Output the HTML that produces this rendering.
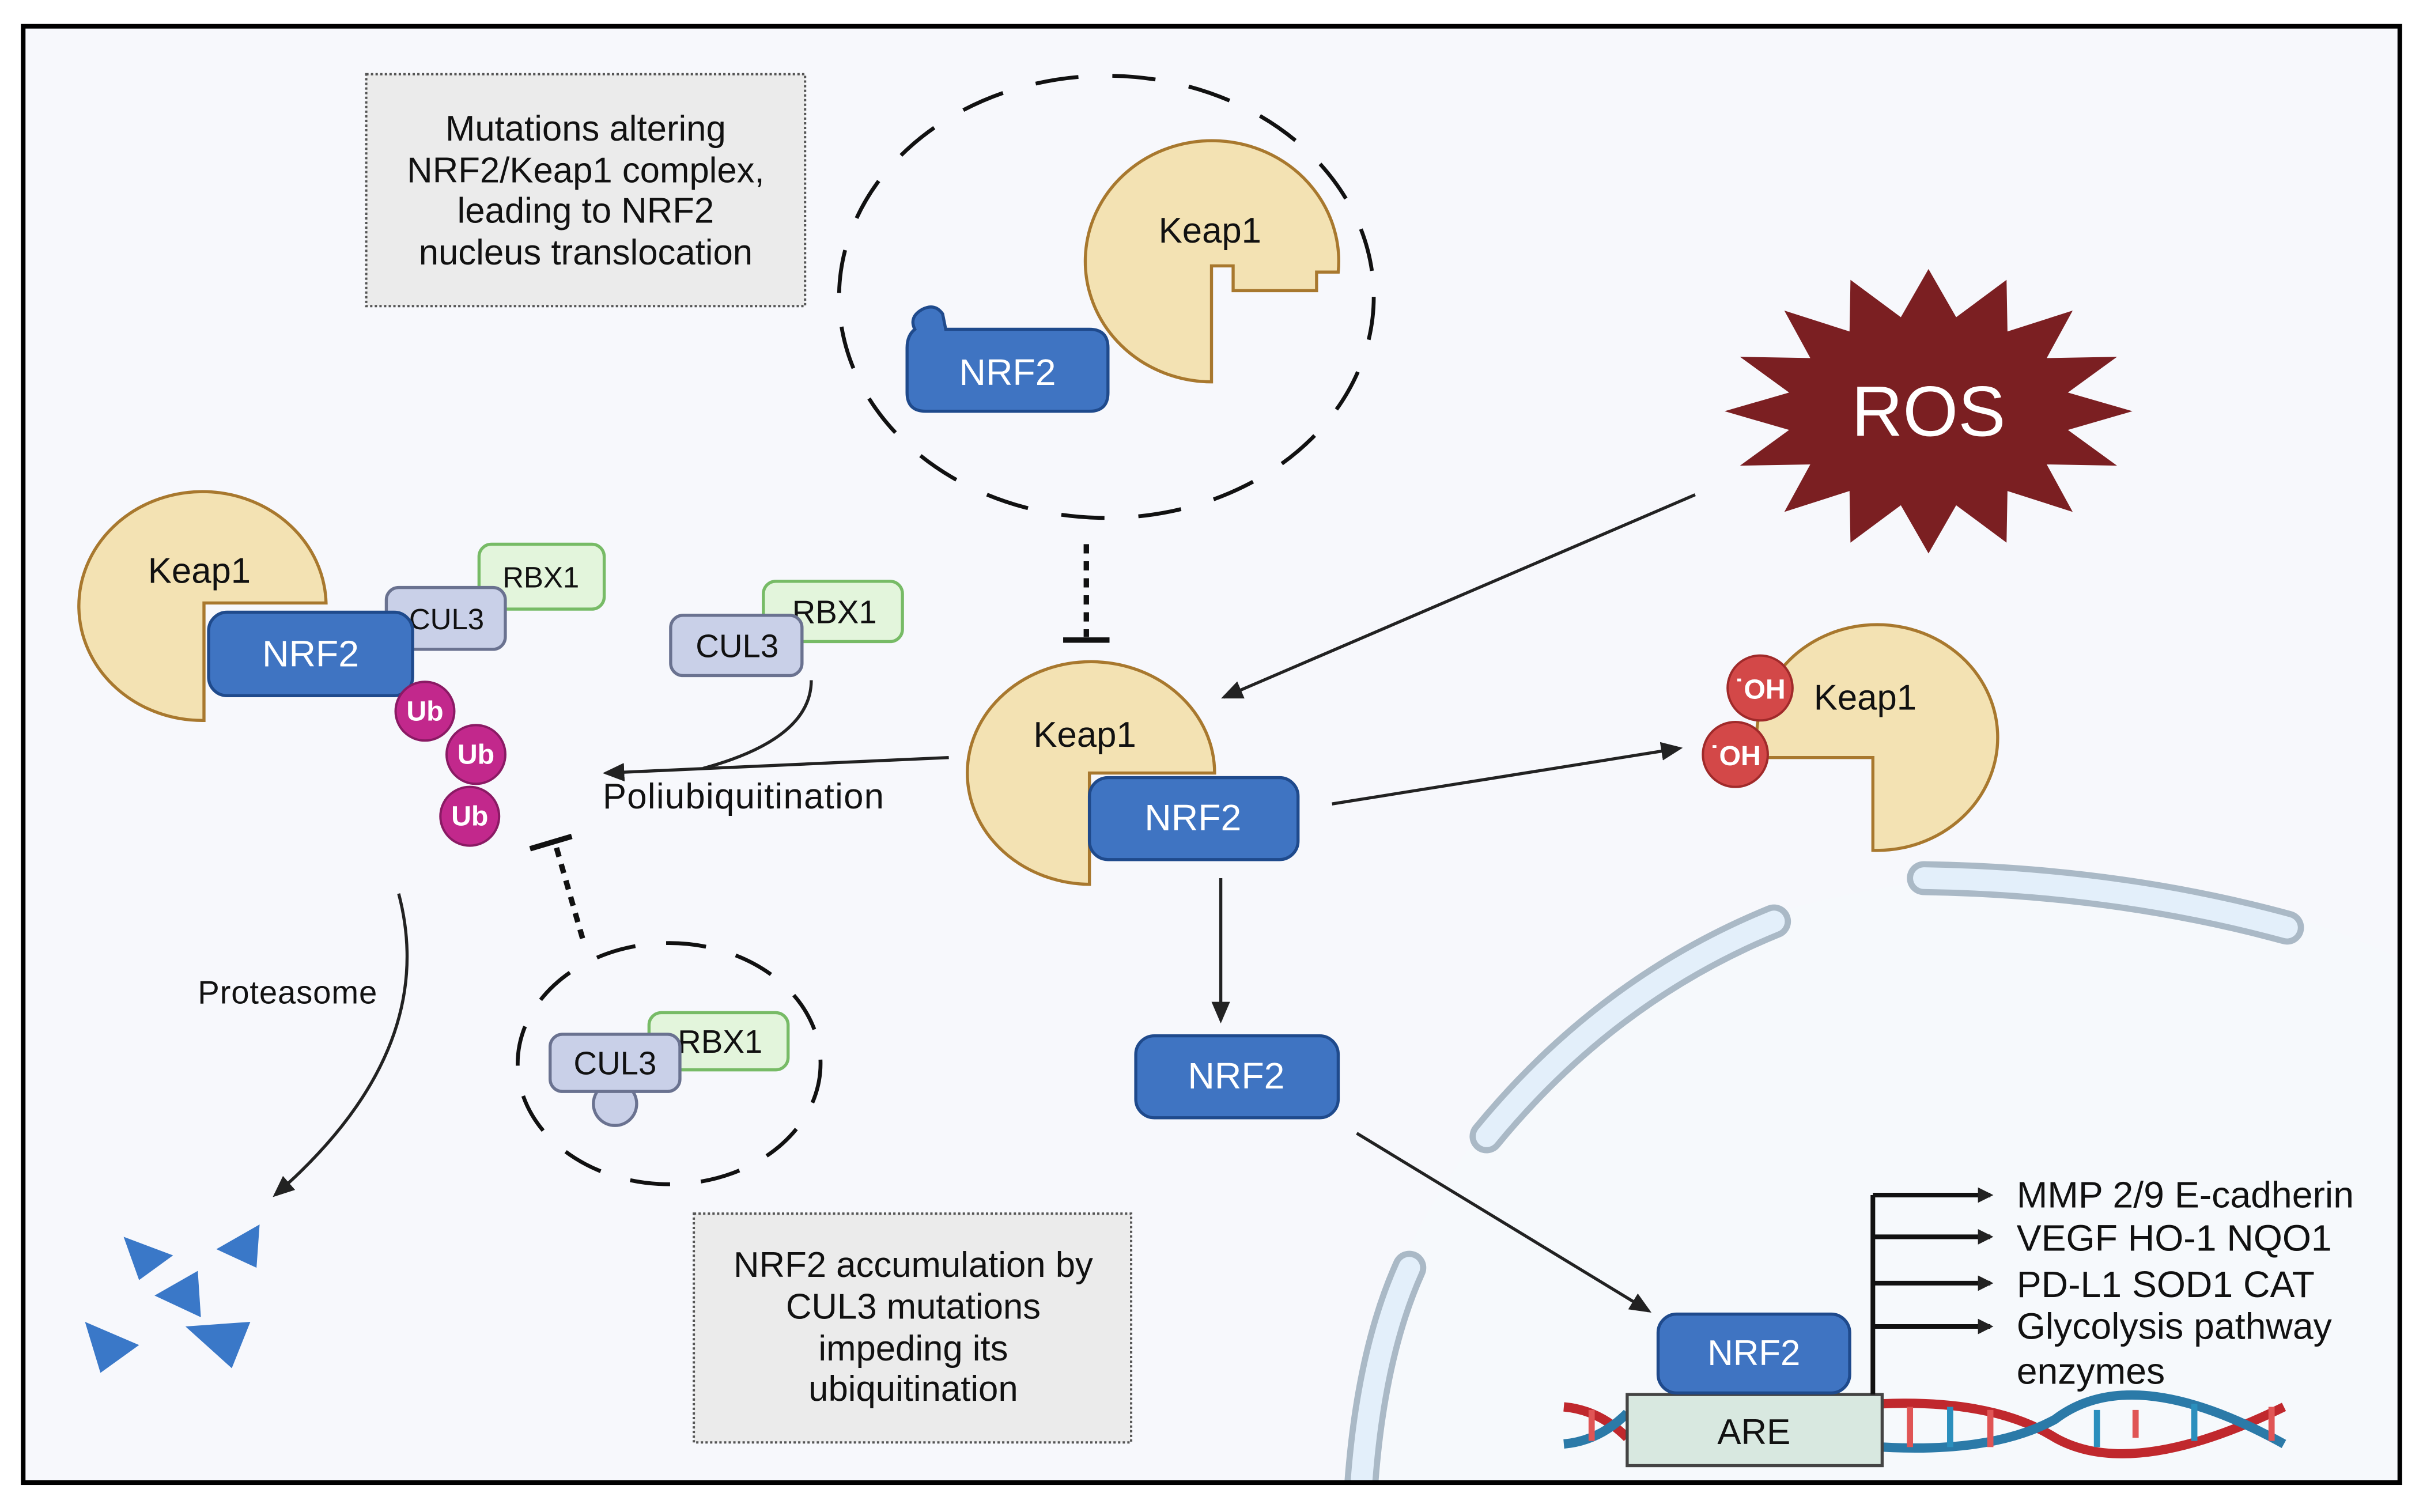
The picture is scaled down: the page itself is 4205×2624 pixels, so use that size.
<!DOCTYPE html>
<html><head><meta charset="utf-8">
<style>
html,body{margin:0;padding:0;background:#fff;}
svg{display:block;}
text{font-family:"Liberation Sans",sans-serif;}
</style></head>
<body>
<svg width="4205" height="2624" viewBox="0 0 1568 978" preserveAspectRatio="none" xmlns="http://www.w3.org/2000/svg">
<defs>
<marker id="ah" markerWidth="10" markerHeight="10" refX="8" refY="5" orient="auto" markerUnits="userSpaceOnUse" viewBox="0 0 10 10">
<path d="M0,0 L10,5 L0,10 z" fill="#222"/></marker>
<marker id="ah2" markerWidth="14" markerHeight="14" refX="12" refY="7" orient="auto" markerUnits="userSpaceOnUse" viewBox="0 0 14 14">
<path d="M0,1 L14,7 L0,13 z" fill="#222"/></marker>
<clipPath id="inner"><rect x="16.5" y="18.5" width="1535" height="939"/></clipPath>
</defs>
<rect x="0" y="0" width="1568" height="978" fill="#fff"/>
<rect x="15" y="17" width="1538" height="942" fill="#f7f8fc"/>

<g clip-path="url(#inner)">
<path d="M870,958 Q900,700 1150,590 Q1360,530 1553,620 L1553,960 Z" fill="#f6f9fc"/>
<g stroke-linecap="round" fill="none">
<path d="M962,735 Q1040,640 1148,596" stroke="#aab9c6" stroke-width="22"/>
<path d="M962,735 Q1040,640 1148,596" stroke="#e3effa" stroke-width="14"/>
<path d="M1245,568 Q1370,570 1480,600" stroke="#aab9c6" stroke-width="22"/>
<path d="M1245,568 Q1370,570 1480,600" stroke="#e3effa" stroke-width="14"/>
<path d="M912,820 Q885,880 880,975" stroke="#aab9c6" stroke-width="22"/>
<path d="M912,820 Q885,880 880,975" stroke="#e3effa" stroke-width="14"/>
</g>
</g>
<rect x="15" y="17" width="1538" height="942" fill="none" stroke="#000" stroke-width="3"/>

<rect x="237" y="48" width="284" height="150" fill="#ebebeb" stroke="#555" stroke-width="1.5" stroke-dasharray="1.5,1.5"/>
<g font-size="23" text-anchor="middle" fill="#111">
<text x="379" y="91">Mutations altering</text>
<text x="379" y="118">NRF2/Keap1 complex,</text>
<text x="379" y="144">leading to NRF2</text>
<text x="379" y="171">nucleus translocation</text>
</g>

<ellipse cx="716" cy="192" rx="173" ry="143" fill="none" stroke="#111" stroke-width="2.5" stroke-dasharray="28,22"/>
<path d="M784,247 A82,78 0 1 1 866,176 L852,176 L852,188 L798,188 L798,172 L784,172 Z" fill="#f3e2b3" stroke="#a8782e" stroke-width="2"/>
<text x="783" y="157" font-size="23" text-anchor="middle" fill="#111">Keap1</text>
<path d="M597,200 Q605,196 610,203 L612,213 L705,213 Q717,213 717,225 L717,254 Q717,266 705,266 L599,266 Q587,266 587,254 L587,225 Q587,217 592,213 Q588,205 597,200 Z" fill="#3f74c2" stroke="#1f4a8c" stroke-width="2"/>
<text x="652" y="249" font-size="24" text-anchor="middle" fill="#fff">NRF2</text>

<polygon id="ros" fill="#7b1f22" points=""/>
<text x="1248" y="282" font-size="46" text-anchor="middle" fill="#fff">ROS</text>

<line x1="703" y1="352" x2="703" y2="412" stroke="#111" stroke-width="3.5" stroke-dasharray="6,5"/>
<line x1="688" y1="414" x2="718" y2="414" stroke="#111" stroke-width="3.5"/>

<path d="M705,572 A80,72 0 1 1 786,500 L705,500 Z" fill="#f3e2b3" stroke="#a8782e" stroke-width="2"/>
<text x="702" y="483" font-size="23" text-anchor="middle" fill="#111">Keap1</text>
<rect x="705" y="503" width="135" height="53" rx="12" fill="#3f74c2" stroke="#1f4a8c" stroke-width="2"/>
<text x="772" y="537" font-size="24" text-anchor="middle" fill="#fff">NRF2</text>

<g stroke="#222" stroke-width="2" fill="none">
<line x1="1097" y1="320" x2="792" y2="451" marker-end="url(#ah2)"/>
<line x1="862" y1="520" x2="1087" y2="484" marker-end="url(#ah2)"/>
<line x1="790" y1="568" x2="790" y2="660" marker-end="url(#ah2)"/>
<line x1="878" y1="733" x2="1067" y2="848" marker-end="url(#ah2)"/>
<line x1="614" y1="490" x2="392" y2="500" marker-end="url(#ah2)"/>
<path d="M525,440 Q525,478 455,497"/>
<path d="M258,578 Q285,680 178,773" marker-end="url(#ah2)"/>
</g>

<path d="M1212,550 A78,73 0 1 0 1138,490 L1212,490 Z" fill="#f3e2b3" stroke="#a8782e" stroke-width="2"/>
<text x="1207" y="459" font-size="23" text-anchor="middle" fill="#111">Keap1</text>
<circle cx="1139" cy="445" r="21" fill="#d34848" stroke="#a02a2a" stroke-width="1.5"/>
<text x="1139" y="452" font-size="18" text-anchor="middle" fill="#fff" font-weight="bold">˙OH</text>
<circle cx="1123" cy="488" r="21" fill="#d34848" stroke="#a02a2a" stroke-width="1.5"/>
<text x="1123" y="495" font-size="18" text-anchor="middle" fill="#fff" font-weight="bold">˙OH</text>

<rect x="735" y="670" width="131" height="53" rx="12" fill="#3f74c2" stroke="#1f4a8c" stroke-width="2"/>
<text x="800" y="704" font-size="24" text-anchor="middle" fill="#fff">NRF2</text>

<g fill="none" stroke-width="6">
<path d="M1012,910 Q1035,912 1053,930" stroke="#c0282d"/>
<path d="M1012,934 Q1035,932 1053,914" stroke="#2b7aa8"/>
<path d="M1218,908 Q1290,905 1330,930 Q1380,958 1478,910" stroke="#c0282d"/>
<path d="M1218,936 Q1290,940 1330,918 Q1380,880 1478,934" stroke="#2b7aa8"/>
</g>
<g stroke-width="4">
<line x1="1236" y1="910" x2="1236" y2="936" stroke="#e05555"/>
<line x1="1262" y1="910" x2="1262" y2="936" stroke="#2b8fbd"/>
<line x1="1288" y1="912" x2="1288" y2="936" stroke="#e05555"/>
<line x1="1357" y1="912" x2="1357" y2="936" stroke="#2b8fbd"/>
<line x1="1382" y1="912" x2="1382" y2="930" stroke="#e05555"/>
<line x1="1420" y1="908" x2="1420" y2="932" stroke="#2b8fbd"/>
<line x1="1470" y1="910" x2="1470" y2="932" stroke="#e05555"/>
<line x1="1030" y1="912" x2="1030" y2="932" stroke="#e05555"/>
</g>
<rect x="1053" y="902" width="165" height="46" fill="#d8e8e0" stroke="#444" stroke-width="2"/>
<text x="1135" y="934" font-size="23" text-anchor="middle" fill="#111">ARE</text>
<rect x="1073" y="850" width="124" height="51" rx="12" fill="#3f74c2" stroke="#1f4a8c" stroke-width="2"/>
<text x="1135" y="883" font-size="23" text-anchor="middle" fill="#fff">NRF2</text>

<g stroke="#111" stroke-width="3" fill="none">
<line x1="1212" y1="902" x2="1212" y2="773"/>
<line x1="1212" y1="773" x2="1288" y2="773" marker-end="url(#ah)"/>
<line x1="1212" y1="800" x2="1288" y2="800" marker-end="url(#ah)"/>
<line x1="1212" y1="830" x2="1288" y2="830" marker-end="url(#ah)"/>
<line x1="1212" y1="858" x2="1288" y2="858" marker-end="url(#ah)"/>
</g>
<g font-size="24" fill="#111">
<text x="1305" y="781">MMP 2/9 E-cadherin</text>
<text x="1305" y="809">VEGF  HO-1 NQO1</text>
<text x="1305" y="839">PD-L1 SOD1 CAT</text>
<text x="1305" y="866">Glycolysis pathway</text>
<text x="1305" y="895">enzymes</text>
</g>

<path d="M132,466 A80,74 0 1 1 211,390 L132,390 Z" fill="#f3e2b3" stroke="#a8782e" stroke-width="2"/>
<text x="129" y="377" font-size="23" text-anchor="middle" fill="#111">Keap1</text>
<rect x="310" y="352" width="81" height="42" rx="8" fill="#e3f5dc" stroke="#77bb66" stroke-width="2"/>
<text x="350" y="380" font-size="19" text-anchor="middle" fill="#111">RBX1</text>
<rect x="250" y="380" width="77" height="40" rx="8" fill="#c9d0e8" stroke="#6a7290" stroke-width="2"/>
<text x="289" y="407" font-size="19" text-anchor="middle" fill="#111">CUL3</text>
<rect x="135" y="396" width="132" height="54" rx="12" fill="#3f74c2" stroke="#1f4a8c" stroke-width="2"/>
<text x="201" y="431" font-size="24" text-anchor="middle" fill="#fff">NRF2</text>
<g fill="#c2288c" stroke="#8a1a64" stroke-width="1.5">
<circle cx="275" cy="460" r="19"/><circle cx="308" cy="488" r="19"/><circle cx="304" cy="528" r="19"/>
</g>
<g font-size="18" font-weight="bold" fill="#fff" text-anchor="middle">
<text x="275" y="466">Ub</text><text x="308" y="494">Ub</text><text x="304" y="534">Ub</text>
</g>

<rect x="494" y="376" width="90" height="39" rx="8" fill="#e3f5dc" stroke="#77bb66" stroke-width="2"/>
<text x="540" y="403" font-size="21" text-anchor="middle" fill="#111">RBX1</text>
<rect x="434" y="398" width="85" height="39" rx="8" fill="#c9d0e8" stroke="#6a7290" stroke-width="2"/>
<text x="477" y="425" font-size="21" text-anchor="middle" fill="#111">CUL3</text>
<text x="390" y="523" font-size="23" fill="#111" textLength="182">Poliubiquitination</text>

<line x1="377" y1="607" x2="360" y2="548" stroke="#111" stroke-width="3.5" stroke-dasharray="6,5"/>
<line x1="343" y1="549" x2="370" y2="541" stroke="#111" stroke-width="3.5"/>

<ellipse cx="433" cy="688" rx="98" ry="78" fill="none" stroke="#111" stroke-width="2.5" stroke-dasharray="26,20"/>
<rect x="420" y="655" width="90" height="37" rx="8" fill="#e3f5dc" stroke="#77bb66" stroke-width="2"/>
<text x="466" y="681" font-size="21" text-anchor="middle" fill="#111">RBX1</text>
<circle cx="398" cy="714" r="14" fill="#c9d0e8" stroke="#6a7290" stroke-width="2"/>
<rect x="356" y="669" width="84" height="37" rx="8" fill="#c9d0e8" stroke="#6a7290" stroke-width="2"/>
<text x="398" y="695" font-size="21" text-anchor="middle" fill="#111">CUL3</text>

<text x="128" y="649" font-size="21" fill="#111" textLength="116">Proteasome</text>

<g fill="#3a78c8">
<polygon points="80,800 112,812 90,828"/>
<polygon points="140,808 168,792 166,820"/>
<polygon points="100,838 128,822 130,852"/>
<polygon points="55,855 90,870 65,888"/>
<polygon points="120,858 162,855 150,885"/>
</g>

<rect x="449" y="785" width="283" height="148" fill="#ebebeb" stroke="#555" stroke-width="1.5" stroke-dasharray="1.5,1.5"/>
<g font-size="23" text-anchor="middle" fill="#111">
<text x="591" y="826">NRF2 accumulation by</text>
<text x="591" y="853">CUL3 mutations</text>
<text x="591" y="880">impeding its</text>
<text x="591" y="906">ubiquitination</text>
</g>
<script>
(function(){var cx=1248,cy=266,n=16,pts=[];for(var i=0;i<2*n;i++){var a=Math.PI*i/n;var ro=(i%2==0);var rx=ro?132:92,ry=ro?92:62;pts.push((cx+rx*Math.cos(a)).toFixed(1)+","+(cy+ry*Math.sin(a)).toFixed(1));}document.getElementById('ros').setAttribute('points',pts.join(' '));})();
</script>
</svg>
</body></html>
